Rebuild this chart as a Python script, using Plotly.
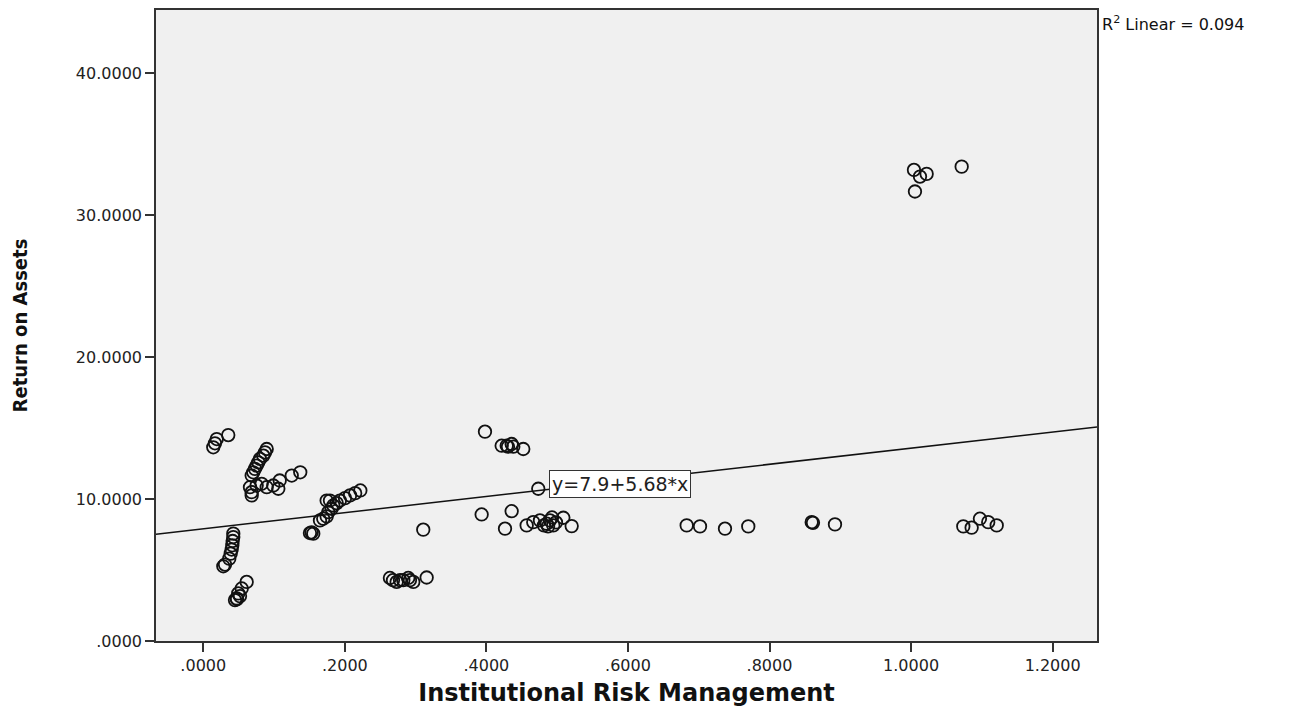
import plotly.graph_objects as go

# Institutional Risk Management (x) and Return on Assets (y)
irm = [
    0.0141, 0.0165, 0.0190, 0.0353,
    0.0896, 0.0872, 0.0848, 0.0801, 0.0777, 0.0754, 0.0730, 0.0706, 0.0684,
    0.0660, 0.0684, 0.0684, 0.0754, 0.0825, 0.0896, 0.0989, 0.1060, 0.1080, 0.1250, 0.1370,
    0.2219, 0.2146, 0.2073, 0.2002, 0.1930, 0.1885, 0.1837, 0.1790, 0.1743, 0.1814,
    0.1766, 0.1743, 0.1695, 0.1649, 0.1507, 0.1554, 0.1530,
    0.0424, 0.0424, 0.0415, 0.0410, 0.0401, 0.0387, 0.0367, 0.0307, 0.0283,
    0.0613, 0.0543, 0.0494, 0.0472, 0.0448, 0.0519, 0.0476,
    0.2637, 0.2680, 0.2732, 0.2780, 0.2826, 0.2896, 0.2920, 0.2967, 0.3156, 0.3108,
    0.3980, 0.4216, 0.4287, 0.4357, 0.4380, 0.4305, 0.4521, 0.4733,
    0.3933, 0.4357, 0.4263, 0.4569, 0.4662, 0.4757, 0.4852, 0.4898, 0.4945, 0.4871,
    0.4927, 0.5087, 0.5205, 0.4813, 0.4983,
    0.6830, 0.7018, 0.7371, 0.7700, 0.8596, 0.8614, 0.8925,
    1.0738, 1.0856, 1.0973, 1.1090, 1.1210,
    1.0041, 1.0126, 1.0220, 1.0055, 1.0715,
]
roa = [
    13.64, 13.92, 14.22, 14.50,
    13.52, 13.28, 13.05, 12.82, 12.58, 12.35, 12.12, 11.88, 11.65,
    10.83, 10.48, 10.25, 10.95, 11.07, 10.83, 10.95, 10.72, 11.30, 11.65, 11.88,
    10.60, 10.41, 10.25, 10.06, 9.89, 9.71, 9.54, 9.89, 9.89, 9.31,
    9.07, 8.77, 8.61, 8.49, 7.60, 7.56, 7.65,
    7.56, 7.32, 7.04, 6.74, 6.44, 6.15, 5.80, 5.38, 5.26,
    4.16, 3.70, 3.35, 3.00, 2.88, 3.16, 2.95,
    4.44, 4.28, 4.16, 4.28, 4.28, 4.44, 4.28, 4.16, 4.47, 7.84,
    14.74, 13.75, 13.75, 13.87, 13.68, 13.68, 13.52, 10.72,
    8.91, 9.14, 7.91, 8.14, 8.37, 8.49, 8.26, 8.49, 8.14, 8.07,
    8.70, 8.68, 8.09, 8.14, 8.35,
    8.14, 8.07, 7.91, 8.07, 8.37, 8.32, 8.21,
    8.07, 7.98, 8.61, 8.37, 8.14,
    33.17, 32.70, 32.89, 31.65, 33.40,
]

intercept = 7.9
slope = 5.68
r2 = 0.094

x_tickvals = [0.0, 0.2, 0.4, 0.6, 0.8, 1.0, 1.2]
x_ticktext = [".0000", ".2000", ".4000", ".6000", ".8000", "1.0000", "1.2000"]
y_tickvals = [0, 10, 20, 30, 40]
y_ticktext = [".0000", "10.0000", "20.0000", "30.0000", "40.0000"]

x_range = [-0.0668, 1.2627]
y_range = [0, 44.43]

fig = go.Figure()

fig.add_trace(go.Scatter(
    x=irm, y=roa, mode="markers",
    marker=dict(symbol="circle-open", size=12.5, color="#111111",
                line=dict(width=1.8, color="#111111")),
    showlegend=False, hoverinfo="x+y",
))

fit_x = [x_range[0], x_range[1]]
fit_y = [intercept + slope * v for v in fit_x]
fig.add_trace(go.Scatter(
    x=fit_x, y=fit_y, mode="lines",
    line=dict(color="#111111", width=1.5),
    showlegend=False, hoverinfo="skip",
))

fig.add_annotation(
    x=0.4887, y=11.09, xref="x", yref="y",
    text=f"y={intercept}+{slope}*x", showarrow=False,
    xanchor="left", yanchor="middle",
    font=dict(family="DejaVu Sans, Liberation Sans, sans-serif", size=19, color="#222222"),
    bgcolor="white", bordercolor="#333333", borderwidth=1, borderpad=2,
)

fig.add_annotation(
    x=1.003, y=0.978, xref="paper", yref="paper",
    text=f"R<sup>2</sup> Linear = {r2}", showarrow=False,
    xanchor="left", yanchor="middle",
    font=dict(family="DejaVu Sans, Liberation Sans, sans-serif", size=16, color="#111111"),
)

tick_font = dict(family="DejaVu Sans, Liberation Sans, sans-serif", size=16, color="#222222")

fig.update_xaxes(
    range=x_range, tickvals=x_tickvals, ticktext=x_ticktext,
    showgrid=False, zeroline=False,
    showline=True, linecolor="#333333", linewidth=1.6, mirror=True,
    ticks="outside", ticklen=9, tickwidth=1.6, tickcolor="#333333",
    tickfont=tick_font,
    title=dict(text="Institutional Risk Management", standoff=10,
               font=dict(family="DejaVu Sans, Liberation Sans, sans-serif", size=24, color="#111111",
                         weight="bold")),
)
fig.update_yaxes(
    range=y_range, tickvals=y_tickvals, ticktext=y_ticktext,
    showgrid=False, zeroline=False,
    showline=True, linecolor="#333333", linewidth=1.6, mirror=True,
    ticks="outside", ticklen=9, tickwidth=1.6, tickcolor="#333333",
    tickfont=tick_font,
    title=dict(text="Return on Assets", standoff=44,
               font=dict(family="Liberation Sans Narrow, DejaVu Sans Condensed, Arial Narrow, sans-serif",
                         size=20, color="#111111", weight="bold")),
)

fig.update_layout(
    width=1282, height=703,
    margin=dict(l=148, r=193, t=0, b=70),
    plot_bgcolor="#F0F0F0", paper_bgcolor="white",
)

fig.write_html("out.html")
